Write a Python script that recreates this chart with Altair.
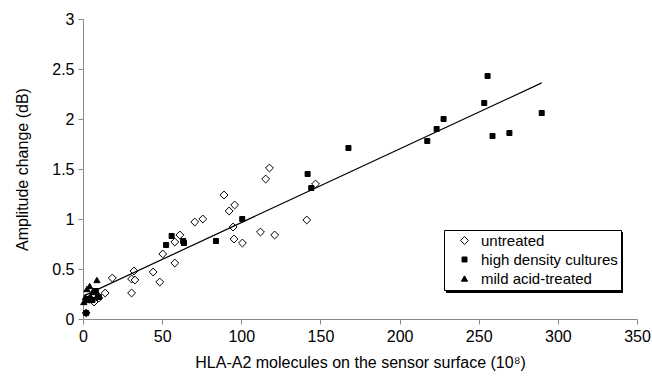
import altair as alt
import pandas as pd

groups = ["untreated", "high density cultures", "mild acid-treated"]

untreated_x = [2, 4, 7, 10, 14, 18.5, 30.7, 30.7, 32.2, 32.8, 44.3, 48.5, 50.4, 58, 58, 61.2,
               70.6, 75.7, 89.1, 92.3, 95.8, 94.8, 95.4, 100.7, 112.1, 115.4, 117.8, 121.1,
               141.4, 146.9]
untreated_y = [0.06, 0.20, 0.17, 0.21, 0.26, 0.41, 0.26, 0.40, 0.48, 0.39, 0.47, 0.37, 0.65,
               0.56, 0.77, 0.84, 0.97, 1.00, 1.24, 1.08, 1.14, 0.92, 0.80, 0.76, 0.87, 1.40,
               1.51, 0.84, 0.99, 1.35]

hd_x = [2, 3, 6, 8, 10, 52.5, 56, 63.3, 63.8, 84, 100.6, 141.9, 144.2, 167.7, 217.5, 223.4,
        227.8, 253.5, 255.6, 258.7, 269.4, 289.8]
hd_y = [0.06, 0.20, 0.19, 0.28, 0.22, 0.74, 0.83, 0.78, 0.76, 0.78, 1.00, 1.45, 1.31, 1.71,
        1.78, 1.90, 2.00, 2.16, 2.43, 1.83, 1.86, 2.06]

acid_x = [0.5, 1.5, 2.5, 3.5, 4.2, 5, 6, 7.5, 8.8, 9.5]
acid_y = [0.17, 0.22, 0.30, 0.19, 0.33, 0.22, 0.27, 0.28, 0.39, 0.25]

x_ticks = [0, 50, 100, 150, 200, 250, 300, 350]
y_ticks = [0, 0.5, 1, 1.5, 2, 2.5, 3]

x_title = "HLA-A2 molecules on the sensor surface (10\u2078)"
y_title = "Amplitude change (dB)"

rows = []
for g, xs, ys in zip(groups, [untreated_x, hd_x, acid_x], [untreated_y, hd_y, acid_y]):
    for a, b in zip(xs, ys):
        rows.append({"group": g, "x": a, "y": b})
df = pd.DataFrame(rows)

FONT = "Liberation Sans"
AXIS_GREY = "#8a8a8a"

x_enc = alt.X(
    "x:Q",
    scale=alt.Scale(domain=[0, 350], nice=False, zero=True),
    axis=alt.Axis(
        values=x_ticks, title=x_title, grid=False, domainColor=AXIS_GREY, tickColor=AXIS_GREY,
        tickSize=5, labelFontSize=16, labelColor="black", labelPadding=4, labelFlush=False,
        titleFontSize=16, titleFontWeight="normal", titleColor="black",
        titleX=277, titleY=43, titleBaseline="middle", titleAlign="center",
    ),
)
y_enc = alt.Y(
    "y:Q",
    scale=alt.Scale(domain=[0, 3], nice=False),
    axis=alt.Axis(
        values=y_ticks, title=y_title, grid=False, domainColor=AXIS_GREY, tickColor=AXIS_GREY,
        tickSize=5, labelFontSize=16, labelColor="black", labelPadding=4, labelFlush=False,
        labelExpr="datum.value + ''",
        titleFontSize=16, titleFontWeight="normal", titleColor="black",
        titleX=-61, titleY=150, titleBaseline="middle", titleAlign="center", titleAngle=270,
    ),
)

legend = alt.Legend(
    title=None, orient="none", legendX=361, legendY=211,
    strokeColor="black", fillColor="white", padding=3,
    labelFont=FONT, labelFontSize=15, labelColor="black",
    symbolOffset=10, labelOffset=9, rowPadding=3,
    symbolStrokeColor="black", symbolStrokeWidth=1,
)

points = alt.Chart(df).mark_point(filled=True, opacity=1, strokeWidth=1).encode(
    x=x_enc,
    y=y_enc,
    shape=alt.Shape("group:N", scale=alt.Scale(domain=groups, range=["diamond", "square", "triangle-up"]), legend=legend),
    fill=alt.Fill("group:N", scale=alt.Scale(domain=groups, range=["white", "black", "black"]), legend=legend),
    stroke=alt.Stroke("group:N", scale=alt.Scale(domain=groups, range=["black", "black", "black"]), legend=legend),
    size=alt.Size("group:N", scale=alt.Scale(type="ordinal", domain=groups, range=[62, 25, 38]), legend=legend),
)

trend = alt.Chart(df).transform_regression("x", "y").mark_line(color="black", strokeWidth=1.2).encode(
    x="x:Q", y="y:Q"
)

shadow = alt.Chart(pd.DataFrame({"k": [0]})).mark_rect(color="black").encode(
    x=alt.value(363), x2=alt.value(540), y=alt.value(213), y2=alt.value(274)
)

chart = alt.layer(shadow, points, trend).properties(
    width=554, height=300,
    autosize=alt.AutoSizeParams(type="none"),
    padding={"left": 83, "top": 19, "right": 15, "bottom": 58},
).configure(font=FONT).configure_view(strokeWidth=0)

chart.save("out.html", embed_options={"renderer": "svg", "actions": False})
